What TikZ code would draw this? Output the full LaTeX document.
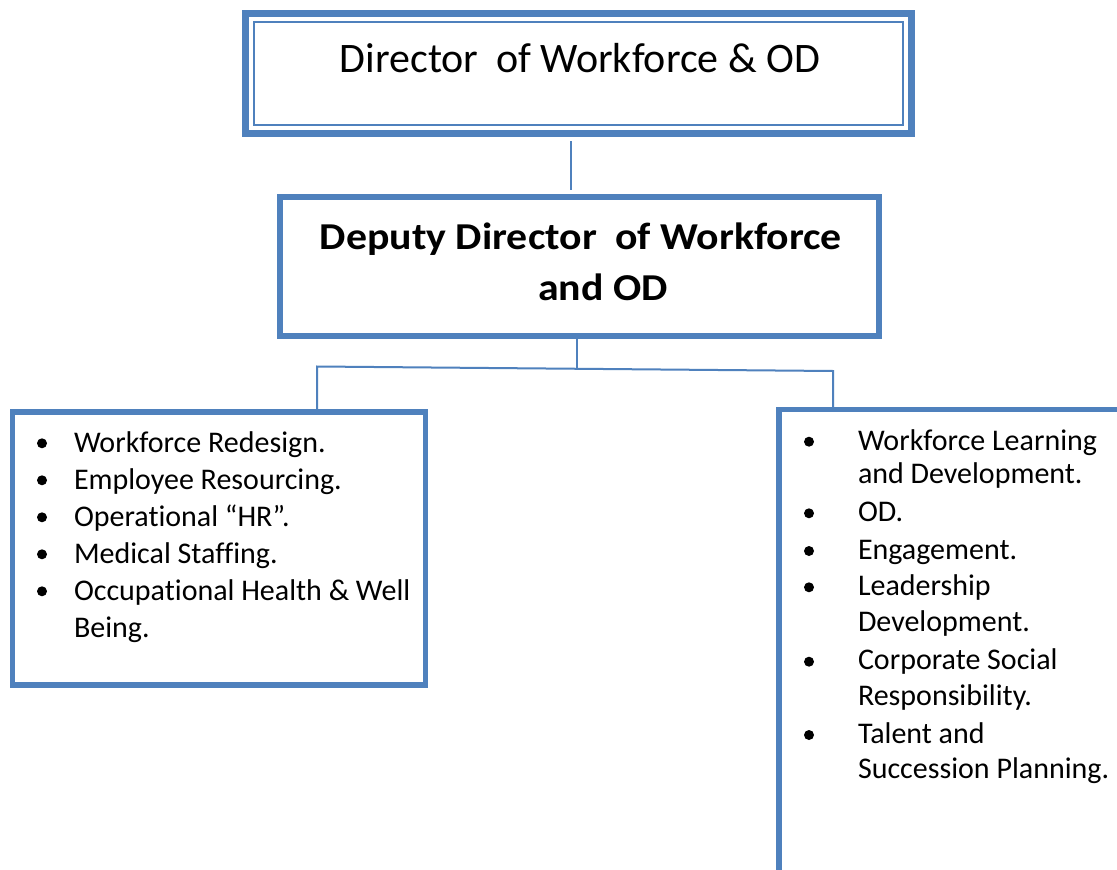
\documentclass[tikz,border=0pt]{standalone}
\usepackage{fontspec}
\setmainfont{Carlito}[Ligatures={NoCommon}]
\newfontfamily\depfont{Carlito}[Ligatures={NoCommon}, FakeStretch=1.1]
\usetikzlibrary{calc}
\definecolor{wblue}{HTML}{4F81BD}
\begin{document}
\begin{tikzpicture}[x=1pt,y=-1pt,
  box/.style={draw=wblue, rectangle, outer sep=0pt, inner sep=0pt},
  conn/.style={draw=wblue, line width=2pt},
  txt/.style={inner sep=0pt, outer sep=0pt, anchor=base west, font=\fontsize{30}{36}\selectfont},
  ttl/.style={inner sep=0pt, outer sep=0pt, anchor=base},
  deptitle/.style={ttl, font=\depfont\fontsize{38}{46}\selectfont\bfseries},
  bul/.style={circle, fill=black, inner sep=0pt, outer sep=0pt, minimum size=10pt},
]
\useasboundingbox (0,0) rectangle (1117,870);
\clip (0,0) rectangle (1117,870);
\fill[white] (0,0) rectangle (1117,870);

% Director box (thick outer + thin inner border)
\node[box, line width=7.5pt, minimum width=666pt, minimum height=120pt] (dir) at (578.5,73.7) {};
\node[box, line width=2.3pt, minimum width=649pt, minimum height=103.3pt] (dirin) at (578.5,73.65) {};
\node[ttl, font=\fontsize{42}{50}\selectfont] (dirtxt) at (580,72.7) {Director\hspace{8pt} of Workforce \& OD};

% Deputy box
\node[box, line width=6pt, minimum width=598.8pt, minimum height=138.7pt] (dep) at (579.1,266.35) {};
\node[deptitle] (deptxt1) at (581,249) {Deputy Director\hspace{9pt} of Workforce};
\node[deptitle] (deptxt2) at (603,300.7) {and OD};

% Left box
\node[box, line width=5.5pt, minimum width=413pt, minimum height=273pt] (lb) at (219,548.5) {};
% Right box (runs past the picture's edges)
\node[box, line width=5.5pt, minimum width=361pt, minimum height=480.5pt] (rb) at (959.5,649.75) {};

% Connectors
\draw[conn] ($(dir.south)+(-8,7.3)$) -- ($(dep.north)+(-8.6,-7)$);
\draw[conn] ($(dep.south)+(-2,3)$) -- ($(dep.south)+(-2,33)$);
\draw[conn] ($(lb.north)+(98,-2.5)$) -- ($(lb.north)+(98,-45.5)$) -- ($(rb.north west)+(54,-38.5)$) -- ($(rb.north west)+(54,-2.5)$);

% Left list
\node[bul] (lb1) at (42,443.3) {};
\node[txt] (lt1) at (74,452.3) {Workforce Redesign.};
\node[bul] (lb2) at (42,480.3) {};
\node[txt] (lt2) at (74,489.3) {Employee Resourcing.};
\node[bul] (lb3) at (42,517.3) {};
\node[txt] (lt3) at (74,526.3) {Operational “HR”.};
\node[bul] (lb4) at (42,554.3) {};
\node[txt] (lt4) at (74,563.3) {Medical Staffing.};
\node[bul] (lb5) at (42,591.3) {};
\node[txt] (lt5) at (74,600.3) {Occupational Health \& Well};
\node[txt] (lt6) at (74,637.3) {Being.};

% Right list
\node[bul] (rb1) at (809,441.7) {};
\node[txt] (rt1) at (858,450) {Workforce Learning};
\node[txt] (rt2) at (858,483.3) {and Development.};
\node[bul] (rb2) at (809,513.3) {};
\node[txt] (rt3) at (858,521.7) {OD.};
\node[bul] (rb3) at (809,551) {};
\node[txt] (rt4) at (858,559.3) {Engagement.};
\node[bul] (rb4) at (809,587.3) {};
\node[txt] (rt5) at (858,595) {Leadership};
\node[txt] (rt6) at (858,631.7) {Development.};
\node[bul] (rb5) at (809,661.7) {};
\node[txt] (rt7) at (858,669.3) {Corporate Social};
\node[txt] (rt8) at (858,705) {Responsibility.};
\node[bul] (rb6) at (809,735) {};
\node[txt] (rt9) at (858,743.3) {Talent and};
\node[txt] (rt10) at (858,778.3) {Succession Planning.};
\end{tikzpicture}
\end{document}
